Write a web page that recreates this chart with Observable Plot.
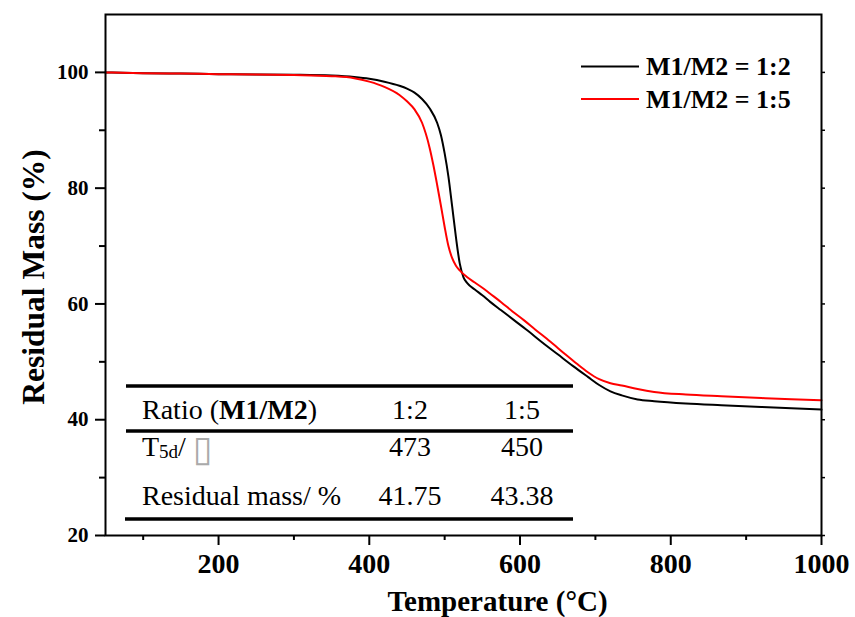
<!DOCTYPE html>
<html><head><meta charset="utf-8">
<script src="https://cdn.jsdelivr.net/npm/d3@7"></script>
<script src="https://cdn.jsdelivr.net/npm/@observablehq/plot@0.6"></script>
<style>body{margin:0;background:#fff;} #chart{width:855px;height:617px;}</style>
</head><body><div id="chart"></div>
<script>
// Series 1: M1/M2 = 1:2 (black)
const tempA = [50,100,150,200,250,300,350,380,400,420,440,450,460,470,480,490,495,500,505,510,515,520,525,530,540,550,560,575,592,610,630,650,670,690,705,720,735,756,778,820,867,920,960,1000];
const massA = [100,99.85,99.8,99.7,99.65,99.6,99.45,99.2,98.9,98.4,97.7,97.2,96.5,95.4,93.8,91.3,89.2,86.0,82.0,76.8,71.5,67.0,64.6,63.6,62.5,61.5,60.4,58.9,57.2,55.4,53.3,51.3,49.3,47.4,46.0,44.9,44.2,43.5,43.2,42.8,42.5,42.2,42.0,41.75];
// Series 2: M1/M2 = 1:5 (red)
const tempB = [50,100,150,200,250,300,350,380,400,420,440,450,460,470,480,485,490,495,500,505,510,515,520,530,540,550,560,575,590,605,620,640,660,675,690,705,720,735,756,778,820,867,920,960,1000];
const massB = [100,99.85,99.8,99.7,99.65,99.55,99.35,99.0,98.4,97.5,96.1,95.0,93.6,91.3,87.0,84.0,80.6,77.0,73.3,70.0,67.9,66.6,65.8,64.6,63.7,62.8,61.8,60.3,58.7,57.2,55.6,53.5,51.3,49.7,48.2,47.0,46.3,45.9,45.3,44.8,44.35,44.05,43.75,43.55,43.38];

const seriesNames = ["M1/M2 = 1:2", "M1/M2 = 1:5"];
const seriesColors = ["#000000", "#ff0000"];
const xTicks = [200, 400, 600, 800, 1000];
const xMinor = [100, 300, 500, 700, 900];
const yTicks = [20, 40, 60, 80, 100];
const yMinor = [30, 50, 70, 90];
const xTitle = "Temperature (°C)";
const yTitle = "Residual Mass (%)";
// Inset table
const tableCols = ["1:2", "1:5"];
const tableT5d = ["473", "450"];
const tableResidual = ["41.75", "43.38"];

const data = [
  ...tempA.map((t, i) => ({T: t, m: massA[i], s: seriesNames[0]})),
  ...tempB.map((t, i) => ({T: t, m: massB[i], s: seriesNames[1]}))
];
const font = "'Liberation Serif','Times New Roman',serif";

const chart = Plot.plot({
  width: 855, height: 617,
  marginLeft: 105, marginRight: 34, marginTop: 14, marginBottom: 82,
  style: {fontFamily: font, background: "#fff", color: "#000", overflow: "visible"},
  x: {domain: [50, 1000]},
  y: {domain: [20, 110]},
  color: {domain: seriesNames, range: seriesColors},
  marks: [
    Plot.line(data, {x: "T", y: "m", z: "s", stroke: "s", strokeWidth: 2, curve: "monotone-x"}),
    Plot.axisX({ticks: xTicks, tickFormat: d => String(d), tickSize: 10, tickPadding: 8, fontSize: 28, fontWeight: "bold", strokeWidth: 2, label: null}),
    Plot.axisX({ticks: xMinor, tickSize: 5, text: null, strokeWidth: 2, label: null}),
    Plot.axisY({ticks: yTicks, tickFormat: d => String(d), tickSize: 10, tickPadding: 7, fontSize: 21, fontWeight: "bold", strokeWidth: 2, label: null}),
    Plot.axisY({ticks: yMinor, tickSize: 6, text: null, strokeWidth: 2, label: null}),
    Plot.axisY({anchor: "right", ticks: [...yTicks, ...yMinor], tickSize: 3, text: null, strokeWidth: 1.5, label: null}),
    Plot.frame({stroke: "#000", strokeWidth: 2}),
    Plot.text([xTitle], {frameAnchor: "bottom", textAnchor: "middle", dx: 34, dy: 75, lineAnchor: "bottom", fontSize: 29, fontWeight: "bold"}),
    Plot.text([yTitle], {frameAnchor: "left", textAnchor: "middle", dx: -62, dy: 2, rotate: -90, lineAnchor: "bottom", fontSize: 31.5, fontWeight: "bold"})
  ]
});
document.getElementById("chart").appendChild(chart);

// Legend & inset table (overlay in the same SVG)
const svg = d3.select(chart);
const lg = svg.append("g").attr("font-family", font).attr("text-anchor", "start");
seriesNames.forEach((name, i) => {
  const y = 66.5 + i * 32.5;
  lg.append("line").attr("x1", 581).attr("x2", 639).attr("y1", y).attr("y2", y)
    .attr("stroke", seriesColors[i]).attr("stroke-width", 2);
  lg.append("text").attr("x", 646).attr("y", y + 8.5).attr("font-size", 26)
    .attr("font-weight", "bold").attr("fill", "#000").text(name);
});

const tb = svg.append("g").attr("font-family", font).attr("font-size", 28).attr("fill", "#000").attr("text-anchor", "start");
[[126, 386], [126, 431], [125, 519]].forEach(([x1, y]) => {
  tb.append("line").attr("x1", x1).attr("x2", 573).attr("y1", y).attr("y2", y)
    .attr("stroke", "#000").attr("stroke-width", 3.5);
});
const colX = [410, 522];
const rowY = [419, 456, 505];
const h = tb.append("text").attr("x", 142).attr("y", rowY[0]);
h.append("tspan").text("Ratio (");
h.append("tspan").attr("font-weight", "bold").text("M1/M2");
h.append("tspan").text(")");
const t = tb.append("text").attr("x", 142).attr("y", rowY[1]);
t.append("tspan").text("T");
t.append("tspan").attr("font-size", 19).attr("dy", 1.5).text("5d");
t.append("tspan").attr("dy", -1.5).text("/ ");
t.append("tspan").attr("font-family", "'DejaVu Sans'").attr("font-size", 36).attr("dy", 5).attr("fill", "#aaa").text("▯");
tb.append("text").attr("x", 142).attr("y", rowY[2]).text("Residual mass/ %");
[tableCols, tableT5d, tableResidual].forEach((row, r) => {
  row.forEach((v, c) => {
    tb.append("text").attr("x", colX[c]).attr("y", rowY[r]).attr("text-anchor", "middle").text(v);
  });
});
</script>
</body></html>
